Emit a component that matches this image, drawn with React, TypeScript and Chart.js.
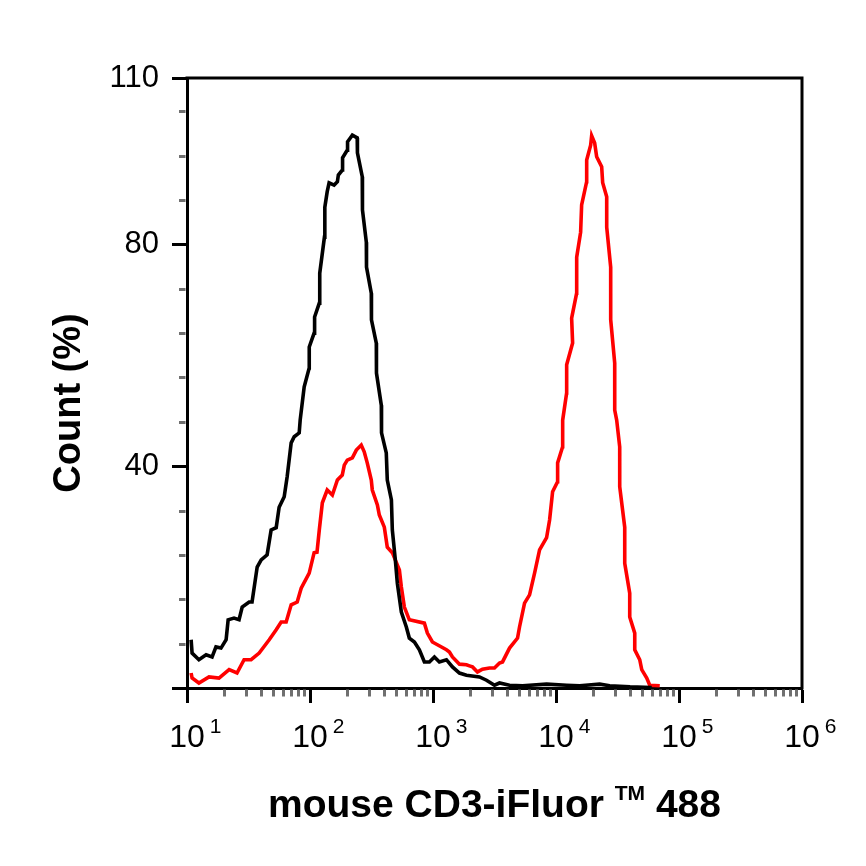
import React, { useEffect, useRef } from 'react';
import { Chart, registerables } from 'chart.js';

Chart.register(...registerables);

// ---- axis ticks / labels ----
const xMajorTicks = [10, 100, 1000, 10000, 100000, 1000000];
const xTickExponents = ['1', '2', '3', '4', '5', '6'];
const xMinorMultipliers = [2, 3, 4, 5, 6, 7, 8, 9];
const yMajorTicks = [0, 40, 80, 110];
const yTickLabels = ['', '40', '80', '110'];
const yMinorTicks = [8, 16, 24, 32, 48, 56, 64, 72, 88, 96, 104];
const xTitleMain = 'mouse CD3-iFluor';
const xTitleSup = 'TM';
const xTitleEnd = '488';
const yTitle = 'Count (%)';

// ---- black (control) histogram ----
const blackX = [10.8, 11.0, 12.5, 14.3, 16.0, 17.2, 18.9, 20.8, 21.6, 24.1, 26.5, 28.1, 32.0, 33.8, 37.2, 40.1, 44.8, 48.3, 53.1, 56.1, 61.7, 65.2, 70.3, 74.4, 81.7, 83.2, 89.7, 98.5, 98.6, 108, 109, 119, 120, 131, 132, 138, 143, 157, 167, 170, 183, 184, 201, 202, 221, 242, 243, 266, 267, 287, 288, 315, 316, 346, 347, 380, 381, 382, 417, 425, 459, 467, 494, 513, 553, 607, 642, 706, 775, 851, 935, 1027, 1127, 1286, 1439, 1641, 1871, 2387, 2722, 3162, 3473, 4190, 5346, 8384, 12200, 15570, 22650, 27320, 40000, 60000];
const blackY = [8.7, 6.3, 5.1, 6.0, 5.6, 7.4, 7.2, 8.7, 12.3, 12.6, 12.3, 14.6, 15.5, 15.5, 21.8, 23.1, 24.0, 28.5, 28.9, 32.6, 34.5, 38.1, 44.2, 45.3, 46.0, 48.3, 54.3, 57.7, 61.5, 64.0, 66.9, 69.4, 74.8, 81.3, 86.7, 89.5, 91.1, 90.7, 91.3, 92.5, 93.4, 95.6, 97.0, 98.5, 99.7, 99.2, 96.5, 92.2, 86.2, 80.4, 75.9, 71.2, 66.4, 62.2, 56.8, 51.0, 48.3, 46.0, 42.4, 37.5, 33.9, 28.5, 23.1, 18.9, 13.7, 11.0, 9.0, 8.3, 6.9, 4.7, 4.7, 5.6, 4.7, 5.1, 3.8, 2.7, 2.3, 2.0, 1.4, 0.5, 0.9, 0.5, 0.4, 0.7, 0.5, 0.4, 0.7, 0.4, 0.2, 0.1];

// ---- red (stained) histogram ----
const redX = [10.8, 11.0, 12.5, 15.1, 18.2, 22.0, 25.5, 29.1, 33.2, 38.6, 46.6, 53.1, 58.3, 64.0, 70.3, 78.7, 84.8, 98.5, 108, 114, 119, 126, 138, 152, 167, 183, 190, 201, 221, 238, 261, 276, 292, 315, 321, 353, 366, 402, 425, 467, 533, 553, 585, 642, 851, 900, 989, 1086, 1286, 1360, 1439, 1641, 1871, 1979, 2094, 2299, 2525, 2880, 3162, 3473, 3674, 4190, 4869, 5052, 5550, 6096, 6695, 7351, 8384, 8869, 9383, 10300, 10310, 11320, 11330, 12200, 12210, 13650, 13400, 14720, 14730, 15860, 16160, 17750, 17760, 19130, 19490, 20620, 21410, 23510, 23960, 25830, 25840, 27830, 27840, 30010, 30020, 31150, 32950, 32960, 36200, 36210, 39750, 39760, 43670, 43680, 47960, 49780, 54680, 57830, 69770];
const redY = [2.7, 1.8, 0.9, 2.0, 1.8, 3.3, 2.7, 5.1, 5.1, 6.3, 8.7, 10.5, 11.9, 11.9, 15.0, 15.5, 18.0, 20.7, 24.4, 24.5, 28.5, 33.4, 35.7, 34.8, 37.5, 38.4, 40.2, 41.1, 41.5, 42.9, 43.8, 42.6, 40.6, 37.5, 35.7, 33.0, 31.2, 29.0, 25.4, 24.4, 21.3, 18.2, 14.6, 12.3, 11.7, 9.9, 8.3, 7.8, 6.9, 6.5, 5.6, 4.3, 4.2, 4.0, 3.8, 2.9, 3.4, 3.6, 3.6, 4.5, 4.7, 7.2, 9.0, 11.0, 15.3, 16.8, 20.7, 24.9, 27.1, 30.3, 35.4, 37.2, 40.6, 43.5, 48.3, 53.2, 58.3, 62.2, 66.7, 71.2, 77.7, 82.2, 87.1, 91.3, 95.2, 97.9, 99.6, 98.3, 95.8, 94.0, 91.1, 88.6, 83.1, 75.9, 66.4, 58.6, 50.1, 48.3, 43.5, 36.3, 29.0, 22.5, 17.1, 12.8, 9.9, 6.9, 5.1, 3.3, 1.8, 0.5, 0.4];

const FONT = "'Liberation Sans', Arial, Helvetica, sans-serif";

const decorPlugin = {
  id: 'decor',
  afterDraw(chart: any) {
    const ctx = chart.ctx;
    const { left, right, top, bottom } = chart.chartArea;
    const xs = chart.scales.x;
    const ys = chart.scales.y;
    ctx.save();
    // frame top & right
    ctx.strokeStyle = '#000';
    ctx.lineWidth = 3;
    ctx.lineCap = 'square';
    ctx.beginPath();
    ctx.moveTo(left, top);
    ctx.lineTo(right, top);
    ctx.lineTo(right, bottom);
    ctx.stroke();
    ctx.lineCap = 'butt';
    // minor ticks
    ctx.strokeStyle = '#707070';
    ctx.lineWidth = 3;
    ctx.beginPath();
    yMinorTicks.forEach((v) => {
      const py = Math.round(ys.getPixelForValue(v)) + 0.5;
      ctx.moveTo(left - 8, py);
      ctx.lineTo(left - 1.5, py);
    });
    for (let i = 0; i < xMajorTicks.length - 1; i++) {
      xMinorMultipliers.forEach((m) => {
        const px = Math.round(xs.getPixelForValue(xMajorTicks[i] * m)) + 0.5;
        ctx.moveTo(px, bottom + 1.5);
        ctx.lineTo(px, bottom + 8.5);
      });
    }
    ctx.stroke();
    // x tick labels 10^n
    ctx.fillStyle = '#000';
    ctx.textBaseline = 'alphabetic';
    xMajorTicks.forEach((v, i) => {
      const px = xs.getPixelForValue(v);
      ctx.font = `32px ${FONT}`;
      ctx.textAlign = 'center';
      ctx.fillText('10', px, bottom + 59);
      const w = ctx.measureText('10').width;
      ctx.font = `21px ${FONT}`;
      ctx.textAlign = 'left';
      ctx.fillText(xTickExponents[i], px + w / 2 + 5, bottom + 45);
    });
    // x title
    const mainFont = `bold 39px ${FONT}`;
    const supFont = `bold 21px ${FONT}`;
    ctx.font = mainFont;
    const w1 = ctx.measureText(xTitleMain + ' ').width;
    const w3 = ctx.measureText(' ' + xTitleEnd).width;
    ctx.font = supFont;
    const w2 = ctx.measureText(xTitleSup).width;
    const total = w1 + w2 + w3;
    const x0 = (left + right) / 2 - total / 2;
    const base = bottom + 129;
    ctx.textAlign = 'left';
    ctx.font = mainFont;
    ctx.fillText(xTitleMain + ' ', x0, base);
    ctx.font = supFont;
    ctx.fillText(xTitleSup, x0 + w1, base - 17);
    ctx.font = mainFont;
    ctx.fillText(' ' + xTitleEnd, x0 + w1 + w2, base);
    // y title
    ctx.save();
    ctx.translate(left - 117, (top + bottom) / 2 + 20);
    ctx.rotate(-Math.PI / 2);
    ctx.font = `bold 38px ${FONT}`;
    ctx.textAlign = 'center';
    ctx.textBaseline = 'middle';
    ctx.fillText(yTitle, 0, 0);
    ctx.restore();
    ctx.restore();
  },
};

export default function App() {
  const canvasRef = useRef<HTMLCanvasElement | null>(null);

  useEffect(() => {
    if (!canvasRef.current) return;
    const chart = new Chart(canvasRef.current, {
      type: 'scatter',
      data: {
        datasets: [
          {
            label: 'Control',
            data: blackX.map((x, i) => ({ x, y: blackY[i] })),
            borderColor: '#000000',
            backgroundColor: '#000000',
            borderWidth: 3.6,
            pointRadius: 0,
            showLine: true,
            tension: 0,
            order: 0,
          },
          {
            label: 'CD3',
            data: redX.map((x, i) => ({ x, y: redY[i] })),
            borderColor: '#ff0000',
            backgroundColor: '#ff0000',
            borderWidth: 3.6,
            pointRadius: 0,
            showLine: true,
            tension: 0,
            order: 1,
          },
        ],
      },
      options: {
        responsive: false,
        animation: false,
        layout: { padding: { left: 0, top: 78, right: 64, bottom: 0 } },
        plugins: { legend: { display: false }, tooltip: { enabled: false } },
        scales: {
          x: {
            type: 'logarithmic',
            min: 10,
            max: 1000000,
            position: 'bottom',
            afterBuildTicks: (s: any) => {
              s.ticks = xMajorTicks.map((v) => ({ value: v }));
            },
            afterFit: (s: any) => {
              s.height = 178;
            },
            ticks: { display: false },
            border: { display: true, color: '#000', width: 3 },
            grid: { drawOnChartArea: false, drawTicks: true, tickLength: 15, tickWidth: 3, tickColor: '#000' },
          },
          y: {
            type: 'linear',
            min: 0,
            max: 110,
            afterBuildTicks: (s: any) => {
              s.ticks = yMajorTicks.map((v) => ({ value: v }));
            },
            afterFit: (s: any) => {
              s.width = 187;
            },
            ticks: {
              callback: (v: any) => yTickLabels[yMajorTicks.indexOf(Number(v))] ?? '',
              font: { family: FONT, size: 31 },
              color: '#000',
              padding: 13,
              autoSkip: false,
            },
            border: { display: true, color: '#000', width: 3 },
            grid: { drawOnChartArea: false, drawTicks: true, tickLength: 15, tickWidth: 3, tickColor: '#000' },
          },
        },
      },
      plugins: [decorPlugin],
    });
    return () => chart.destroy();
  }, []);

  return (
    <div style={{ position: 'absolute', left: 0, top: 0, width: 866, height: 866, background: '#fff' }}>
      <canvas ref={canvasRef} width={866} height={866} style={{ display: 'block' }} />
    </div>
  );
}
